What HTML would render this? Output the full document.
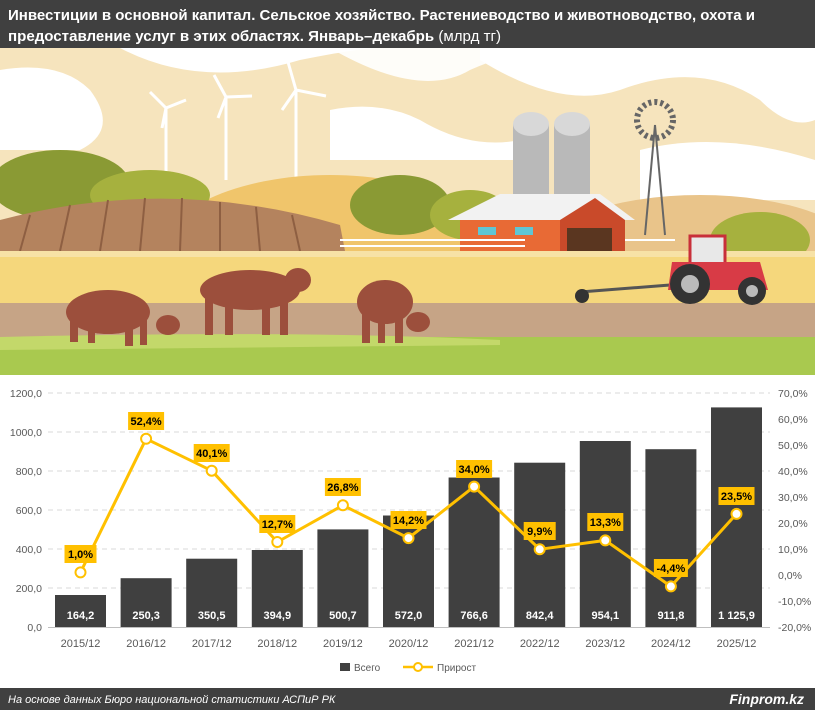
<!DOCTYPE html>
<html><head><meta charset="utf-8"><style>
html,body{margin:0;padding:0;background:#fff;}
body{width:815px;height:710px;overflow:hidden;font-family:"Liberation Sans",sans-serif;}
svg text{font-family:"Liberation Sans",sans-serif;}
</style></head><body>
<svg width="815" height="710" viewBox="0 0 815 710" xmlns="http://www.w3.org/2000/svg">
<!-- header -->
<rect x="0" y="0" width="815" height="48" fill="#404040"/>
<text x="8" y="20" fill="#fff" font-size="15" font-weight="bold" textLength="747" lengthAdjust="spacingAndGlyphs">Инвестиции в основной капитал. Сельское хозяйство. Растениеводство и животноводство, охота и</text>
<text x="8" y="41" fill="#fff" font-size="15" textLength="493" lengthAdjust="spacingAndGlyphs"><tspan font-weight="bold">предоставление услуг в этих областях. Январь–декабрь</tspan> (млрд тг)</text>

<!-- illustration -->
<rect x="0" y="48" width="815" height="327" fill="#f6e4bd"/>
<path d="M0 70 Q60 60 90 90 Q120 130 80 150 L0 150Z" fill="#fff"/>
<path d="M120 48 Q200 90 300 60 Q360 48 380 48Z" fill="#fff"/>
<path d="M330 48 Q420 100 470 70 Q520 48 560 48Z" fill="#fff" opacity="0.9"/>
<path d="M480 60 Q560 110 620 90 Q700 60 760 100 Q790 130 815 120 L815 48 L480 48Z" fill="#fff"/>
<path d="M330 110 Q380 100 420 120 Q470 150 520 140 L520 160 L330 160Z" fill="#fff"/>
<path d="M640 150 Q720 130 815 160 L815 200 L640 200Z" fill="#fff"/>
<!-- turbines -->
<g stroke="#fff" stroke-width="3" fill="none">
<line x1="166" y1="108" x2="166" y2="180"/><line x1="226" y1="97" x2="226" y2="180"/><line x1="296" y1="90" x2="296" y2="180"/>
<path d="M166 108 L150 92 M166 108 L186 100 M166 108 L162 128"/>
<path d="M226 97 L214 75 M226 97 L252 96 M226 97 L218 118"/>
<path d="M296 90 L288 62 M296 90 L326 96 M296 90 L282 110"/>
</g>
<!-- yellow hills -->
<ellipse cx="330" cy="255" rx="170" ry="80" fill="#f0c56b"/>
<ellipse cx="700" cy="255" rx="160" ry="60" fill="#e9c48a"/>
<!-- bushes -->
<ellipse cx="60" cy="185" rx="70" ry="35" fill="#8a9a34"/>
<ellipse cx="150" cy="195" rx="60" ry="25" fill="#a6b13e"/>
<ellipse cx="400" cy="205" rx="50" ry="30" fill="#8a9a34"/>
<ellipse cx="470" cy="215" rx="40" ry="25" fill="#a6b13e"/>
<ellipse cx="760" cy="240" rx="50" ry="28" fill="#a6b13e"/>
<!-- brown field -->
<path d="M0 251 L0 220 Q170 175 340 225 L345 251Z" fill="#b4835e"/>
<g stroke="#8e5f42" stroke-width="2"><line x1="20" y1="251" x2="30" y2="215"/><line x1="60" y1="251" x2="70" y2="205"/><line x1="100" y1="251" x2="108" y2="200"/><line x1="140" y1="251" x2="145" y2="198"/><line x1="180" y1="251" x2="182" y2="198"/><line x1="220" y1="251" x2="220" y2="202"/><line x1="260" y1="251" x2="256" y2="207"/><line x1="300" y1="251" x2="292" y2="215"/></g>
<!-- silos -->
<rect x="513" y="124" width="36" height="72" fill="#b9b9b9"/><ellipse cx="531" cy="124" rx="18" ry="12" fill="#d8d8d8"/>
<rect x="554" y="124" width="36" height="72" fill="#b9b9b9"/><ellipse cx="572" cy="124" rx="18" ry="12" fill="#d8d8d8"/>
<!-- windmill -->
<g stroke="#666" stroke-width="2" fill="none"><line x1="655" y1="125" x2="645" y2="235"/><line x1="655" y1="125" x2="665" y2="235"/><circle cx="655" cy="120" r="18" stroke-dasharray="3 3" stroke-width="6"/></g>
<!-- barn -->
<polygon points="448,220 500,194 600,194 635,220" fill="#f2f2f2"/>
<rect x="460" y="220" width="100" height="32" fill="#e86a35"/>
<polygon points="560,252 560,220 595,198 625,220 625,252" fill="#c94a2a"/>
<rect x="567" y="228" width="45" height="24" fill="#5a3620"/>
<rect x="478" y="227" width="18" height="8" fill="#5fc6d4"/><rect x="515" y="227" width="18" height="8" fill="#5fc6d4"/>
<!-- fence -->
<g stroke="#fff" stroke-width="2"><line x1="340" y1="240" x2="525" y2="240"/><line x1="340" y1="246" x2="525" y2="246"/><line x1="625" y1="240" x2="675" y2="240"/></g>
<!-- bands -->
<rect x="0" y="251" width="815" height="52" fill="#f5d77c"/>
<rect x="0" y="251" width="815" height="6" fill="#f7e2a6"/>
<rect x="0" y="303" width="815" height="34" fill="#c6a486"/>
<rect x="0" y="337" width="815" height="38" fill="#a9c94f"/>
<path d="M0 337 Q300 330 500 340 L500 345 L0 350Z" fill="#c3d86a"/>
<!-- cows -->
<g fill="#9c4f3c">
<ellipse cx="108" cy="312" rx="42" ry="22"/><rect x="70" y="312" width="8" height="30"/><rect x="88" y="315" width="7" height="28"/><rect x="125" y="318" width="8" height="28"/><rect x="140" y="315" width="7" height="30"/><ellipse cx="168" cy="325" rx="12" ry="10"/>
<ellipse cx="250" cy="290" rx="50" ry="20"/><rect x="205" y="295" width="8" height="40"/><rect x="225" y="300" width="8" height="35"/><rect x="262" y="300" width="8" height="35"/><rect x="280" y="298" width="8" height="37"/><ellipse cx="298" cy="280" rx="13" ry="12"/>
<ellipse cx="385" cy="302" rx="28" ry="22"/><rect x="362" y="310" width="8" height="33"/><rect x="378" y="315" width="7" height="28"/><rect x="395" y="315" width="8" height="28"/><ellipse cx="418" cy="322" rx="12" ry="10"/>
</g>
<!-- tractor -->
<g>
<line x1="580" y1="292" x2="670" y2="285" stroke="#555" stroke-width="3"/>
<circle cx="582" cy="296" r="7" fill="#333"/>
<rect x="690" y="236" width="35" height="30" fill="#e8e8e8" stroke="#c82f3a" stroke-width="3"/>
<path d="M668 290 L672 262 L760 262 L768 290Z" fill="#d83b46"/>
<circle cx="690" cy="284" r="20" fill="#333"/><circle cx="690" cy="284" r="9" fill="#bbb"/>
<circle cx="752" cy="291" r="14" fill="#333"/><circle cx="752" cy="291" r="6" fill="#bbb"/>
</g>

<!-- chart -->
<rect x="0" y="375" width="815" height="313" fill="#fff"/>
<g stroke="#d9d9d9" stroke-width="1" stroke-dasharray="5 4">
<line x1="48" y1="393" x2="770" y2="393"/><line x1="48" y1="432" x2="770" y2="432"/><line x1="48" y1="471" x2="770" y2="471"/><line x1="48" y1="510" x2="770" y2="510"/><line x1="48" y1="549" x2="770" y2="549"/><line x1="48" y1="588" x2="770" y2="588"/>
</g>
<line x1="48" y1="627.5" x2="770" y2="627.5" stroke="#bfbfbf"/>
<g font-size="10.5" fill="#595959" text-anchor="end">
<text x="42" y="397">1200,0</text><text x="42" y="436">1000,0</text><text x="42" y="475">800,0</text><text x="42" y="514">600,0</text><text x="42" y="553">400,0</text><text x="42" y="592">200,0</text><text x="42" y="631">0,0</text>
</g>
<g font-size="10.5" fill="#595959">
<text x="778" y="397">70,0%</text><text x="778" y="423">60,0%</text><text x="778" y="449">50,0%</text><text x="778" y="475">40,0%</text><text x="778" y="501">30,0%</text><text x="778" y="527">20,0%</text><text x="778" y="553">10,0%</text><text x="778" y="579">0,0%</text><text x="778" y="605">-10,0%</text><text x="778" y="631">-20,0%</text>
</g>
<g fill="#404040">
<rect x="55" y="595.0" width="51" height="32"/>
<rect x="120.6" y="578.2" width="51" height="48.8"/>
<rect x="186.2" y="558.7" width="51" height="68.3"/>
<rect x="251.8" y="550.0" width="51" height="77"/>
<rect x="317.4" y="529.4" width="51" height="97.6"/>
<rect x="383" y="515.5" width="51" height="111.5"/>
<rect x="448.6" y="477.5" width="51" height="149.5"/>
<rect x="514.2" y="462.7" width="51" height="164.3"/>
<rect x="579.8" y="441.0" width="51" height="186"/>
<rect x="645.4" y="449.2" width="51" height="177.8"/>
<rect x="711" y="407.4" width="51" height="219.6"/>
</g>
<g font-size="11" font-weight="bold" fill="#fff" text-anchor="middle">
<text x="80.5" y="619">164,2</text><text x="146.1" y="619">250,3</text><text x="211.7" y="619">350,5</text><text x="277.3" y="619">394,9</text><text x="342.9" y="619">500,7</text><text x="408.5" y="619">572,0</text><text x="474.1" y="619">766,6</text><text x="539.7" y="619">842,4</text><text x="605.3" y="619">954,1</text><text x="670.9" y="619">911,8</text><text x="736.5" y="619">1 125,9</text>
</g>
<g font-size="11" fill="#595959" text-anchor="middle">
<text x="80.5" y="647">2015/12</text><text x="146.1" y="647">2016/12</text><text x="211.7" y="647">2017/12</text><text x="277.3" y="647">2018/12</text><text x="342.9" y="647">2019/12</text><text x="408.5" y="647">2020/12</text><text x="474.1" y="647">2021/12</text><text x="539.7" y="647">2022/12</text><text x="605.3" y="647">2023/12</text><text x="670.9" y="647">2024/12</text><text x="736.5" y="647">2025/12</text>
</g>
<polyline fill="none" stroke="#ffc000" stroke-width="3" stroke-linejoin="round" points="80.5,572.4 146.1,438.8 211.7,470.7 277.3,542 342.9,505.3 408.5,538.1 474.1,486.6 539.7,549.3 605.3,540.4 670.9,586.4 736.5,513.9"/>
<g fill="#fff" stroke="#ffc000" stroke-width="2">
<circle cx="80.5" cy="572.4" r="5"/><circle cx="146.1" cy="438.8" r="5"/><circle cx="211.7" cy="470.7" r="5"/><circle cx="277.3" cy="542" r="5"/><circle cx="342.9" cy="505.3" r="5"/><circle cx="408.5" cy="538.1" r="5"/><circle cx="474.1" cy="486.6" r="5"/><circle cx="539.7" cy="549.3" r="5"/><circle cx="605.3" cy="540.4" r="5"/><circle cx="670.9" cy="586.4" r="5"/><circle cx="736.5" cy="513.9" r="5"/>
</g>
<g fill="#ffc000">
<rect x="64.5" y="545" width="32" height="18"/><rect x="128.1" y="412" width="36" height="18"/><rect x="193.7" y="444" width="36" height="18"/><rect x="259.3" y="515" width="36" height="18"/><rect x="324.9" y="478" width="36" height="18"/><rect x="390.5" y="511" width="36" height="18"/><rect x="456.1" y="460" width="36" height="18"/><rect x="523.7" y="522" width="32" height="18"/><rect x="587.3" y="513" width="36" height="18"/><rect x="653.9" y="559" width="34" height="18"/><rect x="718.5" y="487" width="36" height="18"/>
</g>
<g font-size="11" font-weight="bold" fill="#000" text-anchor="middle">
<text x="80.5" y="558">1,0%</text><text x="146.1" y="425">52,4%</text><text x="211.7" y="457">40,1%</text><text x="277.3" y="528">12,7%</text><text x="342.9" y="491">26,8%</text><text x="408.5" y="524">14,2%</text><text x="474.1" y="473">34,0%</text><text x="539.7" y="535">9,9%</text><text x="605.3" y="526">13,3%</text><text x="670.9" y="572">-4,4%</text><text x="736.5" y="500">23,5%</text>
</g>
<!-- legend -->
<rect x="340" y="663" width="10" height="8" fill="#404040"/>
<text x="354" y="671" font-size="10" fill="#595959">Всего</text>
<line x1="403" y1="667" x2="433" y2="667" stroke="#ffc000" stroke-width="2.5"/>
<circle cx="418" cy="667" r="4" fill="#fff" stroke="#ffc000" stroke-width="2"/>
<text x="437" y="671" font-size="10" fill="#595959">Прирост</text>

<!-- footer -->
<rect x="0" y="688" width="815" height="22" fill="#404040"/>
<text x="8" y="703" font-size="11" font-style="italic" fill="#fff">На основе данных Бюро национальной статистики АСПиР РК</text>
<text x="804" y="704" font-size="14" font-style="italic" font-weight="bold" fill="#fff" text-anchor="end">Finprom.kz</text>
</svg>
</body></html>
